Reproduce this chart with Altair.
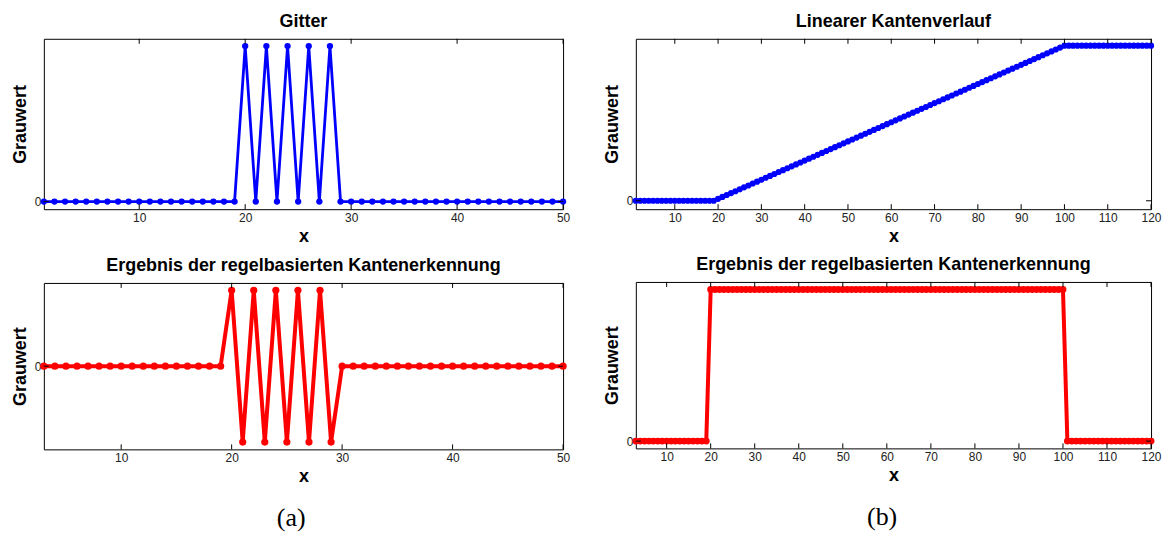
import altair as alt
import pandas as pd

# ---------------- data ----------------
# (a) Gitter
gitter_x = list(range(1, 51))
gitter_v = [0, 0, 0, 0, 0, 0, 0, 0, 0, 0,
            0, 0, 0, 0, 0, 0, 0, 0, 0, 1,
            0, 1, 0, 1, 0, 1, 0, 1, 0, 0,
            0, 0, 0, 0, 0, 0, 0, 0, 0, 0,
            0, 0, 0, 0, 0, 0, 0, 0, 0, 0]

edge_a_x = list(range(3, 51))
edge_a_v = [0, 0, 0, 0, 0, 0, 0, 0, 0, 0,
            0, 0, 0, 0, 0, 0, 0, 1, -1, 1,
            -1, 1, -1, 1, -1, 1, -1, 0, 0, 0,
            0, 0, 0, 0, 0, 0, 0, 0, 0, 0,
            0, 0, 0, 0, 0, 0, 0, 0]

# (b) Linearer Kantenverlauf (grey levels)
ramp_x = list(range(1, 121))
ramp_v = [0, 0, 0, 0, 0, 0, 0, 0, 0, 0,
          0, 0, 0, 0, 0, 0, 0, 0, 0, 1,
          2, 3, 4, 5, 6, 7, 8, 9, 10, 11,
          12, 13, 14, 15, 16, 17, 18, 19, 20, 21,
          22, 23, 24, 25, 26, 27, 28, 29, 30, 31,
          32, 33, 34, 35, 36, 37, 38, 39, 40, 41,
          42, 43, 44, 45, 46, 47, 48, 49, 50, 51,
          52, 53, 54, 55, 56, 57, 58, 59, 60, 61,
          62, 63, 64, 65, 66, 67, 68, 69, 70, 71,
          72, 73, 74, 75, 76, 77, 78, 79, 80, 81,
          81, 81, 81, 81, 81, 81, 81, 81, 81, 81,
          81, 81, 81, 81, 81, 81, 81, 81, 81, 81]

edge_b_x = list(range(3, 121))
edge_b_v = [0, 0, 0, 0, 0, 0, 0, 0, 0, 0,
            0, 0, 0, 0, 0, 0, 0, 1, 1, 1,
            1, 1, 1, 1, 1, 1, 1, 1, 1, 1,
            1, 1, 1, 1, 1, 1, 1, 1, 1, 1,
            1, 1, 1, 1, 1, 1, 1, 1, 1, 1,
            1, 1, 1, 1, 1, 1, 1, 1, 1, 1,
            1, 1, 1, 1, 1, 1, 1, 1, 1, 1,
            1, 1, 1, 1, 1, 1, 1, 1, 1, 1,
            1, 1, 1, 1, 1, 1, 1, 1, 1, 1,
            1, 1, 1, 1, 1, 1, 1, 1, 0, 0,
            0, 0, 0, 0, 0, 0, 0, 0, 0, 0,
            0, 0, 0, 0, 0, 0, 0, 0]

ticks_a = [10, 20, 30, 40, 50]
ticks_b = [10, 20, 30, 40, 50, 60, 70, 80, 90, 100, 110, 120]
y_ticks = [0]

FONT = "Liberation Sans"
BLUE = "#0000ff"
RED = "#ff0000"


def panel(xs, vs, title, color, xdom, ydom, xticks, w, h, sw, msize):
    df = pd.DataFrame({"x": xs, "v": vs})
    xsc = alt.Scale(domain=xdom, nice=False, zero=False)
    ysc = alt.Scale(domain=ydom, nice=False, zero=False)
    common = dict(ticks=False, domain=False, grid=False,
                  labelFont=FONT, labelFontSize=12, labelColor="#222222",
                  labelFlush=False, labelOverlap=False,
                  titleFont=FONT, titleFontSize=18, titleFontWeight="bold",
                  titleColor="black")
    xaxis = alt.Axis(values=xticks, title="x", labelPadding=3,
                     titlePadding=4, **common)
    yaxis = alt.Axis(values=y_ticks, title="Grauwert", labelPadding=3,
                     titlePadding=5, **common)
    X = alt.X("x:Q", scale=xsc, axis=xaxis)
    Y = alt.Y("v:Q", scale=ysc, axis=yaxis)
    base = alt.Chart(df)
    line = base.mark_line(color=color, strokeWidth=sw).encode(x=X, y=Y)
    dots = base.mark_circle(color=color, size=msize, opacity=1).encode(x=X, y=Y)
    tdf = pd.DataFrame({"x": xticks})
    xt_bot = alt.Chart(tdf).mark_rule(color="black", strokeWidth=1).encode(
        x=X, y=alt.value(h), y2=alt.value(h - 5))
    xt_top = alt.Chart(tdf).mark_rule(color="black", strokeWidth=1).encode(
        x=X, y=alt.value(0), y2=alt.value(5))
    zdf = pd.DataFrame({"v": y_ticks})
    yt_l = alt.Chart(zdf).mark_rule(color="black", strokeWidth=1).encode(
        y=Y, x=alt.value(0), x2=alt.value(5))
    yt_r = alt.Chart(zdf).mark_rule(color="black", strokeWidth=1).encode(
        y=Y, x=alt.value(w - 5), x2=alt.value(w))
    return alt.layer(line, dots, xt_bot, xt_top, yt_l, yt_r).properties(
        width=w, height=h,
        title=alt.TitleParams(title, font=FONT, fontSize=18,
                              fontWeight="bold", color="black",
                              anchor="middle", frame="group", offset=7),
    )


tl = panel(gitter_x, gitter_v, "Gitter", BLUE, [1, 50], [-0.049, 1.047],
           ticks_a, 521, 171, 2.8, 40)
bl = panel(edge_a_x, edge_a_v, "Ergebnis der regelbasierten Kantenerkennung",
           RED, [3, 50], [-1.096, 1.097], ticks_a, 521, 167, 4, 52)
tr = panel(ramp_x, ramp_v, "Linearer Kantenverlauf", BLUE, [1, 120],
           [-4.4, 84.6], ticks_b, 517, 171, 2.8, 38)
br = panel(edge_b_x, edge_b_v, "Ergebnis der regelbasierten Kantenerkennung",
           RED, [3, 120], [-0.048, 1.05], ticks_b, 517, 167, 4, 48)


def caption(text):
    return alt.TitleParams(text, orient="bottom", anchor="middle",
                           font="Liberation Serif", fontSize=26,
                           fontWeight="normal", color="black", offset=19)


col_a = alt.vconcat(tl, bl, spacing=10, title=caption("(a)"))
col_b = alt.vconcat(tr, br, spacing=10, title=caption("(b)"))

chart = (
    alt.hconcat(col_a, col_b, spacing=30)
    .properties(padding={"left": 10, "top": 12, "right": 2, "bottom": 2})
    .configure(font=FONT)
    .configure_view(stroke="black", strokeWidth=1)
)

chart.save("out.html", embed_options={"renderer": "svg", "actions": False})
